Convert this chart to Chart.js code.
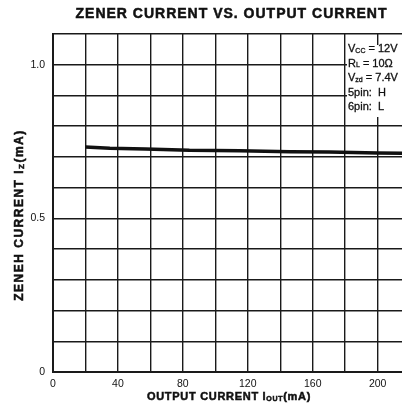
<!DOCTYPE html>
<html>
<head>
<meta charset="utf-8">
<script src="https://cdn.jsdelivr.net/npm/chart.js@4"></script>
<style>
  html, body { margin: 0; padding: 0; background: #fff; }
  .chart-box { width: 402px; height: 410px; position: relative; }
</style>
</head>
<body>
<div class="chart-box"><canvas id="zener"></canvas></div>
<script>
// data
const outputCurrent = [20, 35, 57, 84, 115, 146, 170, 200, 215];
const zenerCurrent = [0.732, 0.728, 0.726, 0.7215, 0.72, 0.717, 0.716, 0.713, 0.712];

// labelled ticks (grid runs every 20 mA / 0.1 mA)
const xTickValues = [0, 40, 80, 120, 160, 200];
const yTickValues = [0, 0.5, 1.0];
const yTickLabels = ["0", "0.5", "1.0"];

// test conditions box: [main, subscript, rest]
const conditions = [
  ["V", "CC", " = 12V"],
  ["R", "L", " = 10Ω"],
  ["V", "zd", " = 7.4V"],
  ["5pin:  H", "", ""],
  ["6pin:  L", "", ""],
];

const FONT = "'Liberation Sans', Arial, Helvetica, sans-serif";
const INK = "#111";

// draw text made of [text, isSubscript] parts, starting at x
function drawParts(ctx, parts, x, y, size, subSize, heavy) {
  parts.forEach(([txt, sub]) => {
    if (!txt) return;
    ctx.font = (sub ? subSize : size) + FONT;
    ctx.fillText(txt, x, sub ? y + 2 : y);
    if (heavy) ctx.strokeText(txt, x, sub ? y + 2 : y);
    x += ctx.measureText(txt).width;
  });
  return x;
}

function partsWidth(ctx, parts, size, subSize) {
  let w = 0;
  parts.forEach(([txt, sub]) => {
    ctx.font = (sub ? subSize : size) + FONT;
    w += ctx.measureText(txt).width;
  });
  return w;
}

const textPlugin = {
  id: "texts",
  afterDraw(chart) {
    const ctx = chart.ctx;
    const area = chart.chartArea;
    ctx.save();
    ctx.fillStyle = INK;
    ctx.strokeStyle = INK;
    ctx.lineWidth = 0.5;
    ctx.textBaseline = "middle";
    ctx.textAlign = "left";

    // title
    ctx.letterSpacing = "1px";
    ctx.font = "bold 14px " + FONT;
    ctx.textAlign = "center";
    const tx = (area.left + area.right) / 2 + 4;
    ctx.fillText("ZENER CURRENT VS. OUTPUT CURRENT", tx, 14);
    ctx.strokeText("ZENER CURRENT VS. OUTPUT CURRENT", tx, 14);
    ctx.textAlign = "left";

    // x axis title
    ctx.letterSpacing = "0.7px";
    const xParts = [["OUTPUT CURRENT I", false], ["OUT", true], ["(mA)", false]];
    const xw = partsWidth(ctx, xParts, "bold 11px ", "bold 7px ");
    drawParts(ctx, xParts, 229 - xw / 2, 397, "bold 11px ", "bold 7px ", true);

    // y axis title
    ctx.save();
    ctx.translate(20, 215);
    ctx.rotate(-Math.PI / 2);
    ctx.letterSpacing = "1.5px";
    const yParts = [["ZENEH CURRENT I", false], ["Z", true], ["(mA)", false]];
    const yw = partsWidth(ctx, yParts, "bold 12px ", "bold 8px ");
    drawParts(ctx, yParts, -yw / 2, 0, "bold 12px ", "bold 8px ", true);
    ctx.restore();

    // conditions box
    ctx.letterSpacing = "0px";
    ctx.fillStyle = "#fff";
    ctx.fillRect(area.right - 55, area.top + 11, 56, 72);
    ctx.fillStyle = INK;
    ctx.lineWidth = 0.3;
    conditions.forEach((c, i) => {
      drawParts(ctx, [[c[0], false], [c[1], true], [c[2], false]],
        area.right - 54, area.top + 15 + i * 14.5, "11px ", "7px ", true);
    });
    ctx.restore();
  },
};

new Chart(document.getElementById("zener"), {
  type: "scatter",
  data: {
    datasets: [
      {
        data: outputCurrent.map((x, i) => ({ x: x, y: zenerCurrent[i] })),
        showLine: true,
        borderColor: INK,
        borderWidth: 3.5,
        pointRadius: 0,
        tension: 0,
      },
    ],
  },
  options: {
    responsive: true,
    maintainAspectRatio: false,
    animation: false,
    layout: { padding: { top: 34, right: 0, left: 0, bottom: 0 } },
    scales: {
      x: {
        type: "linear",
        min: 0,
        max: 215,
        afterFit: (s) => { s.height = 38; },
        grid: { color: "#1a1a1a", lineWidth: 1.4, drawTicks: false },
        border: { color: "#1a1a1a", width: 2 },
        ticks: {
          stepSize: 20,
          includeBounds: false,
          maxRotation: 0,
          autoSkip: false,
          padding: 6,
          color: INK,
          font: { family: FONT, size: 10.5 },
          callback: (v) => (xTickValues.includes(v) ? String(v) : ""),
        },
      },
      y: {
        min: 0,
        max: 1.1,
        afterFit: (s) => { s.width = 53; },
        grid: { color: "#1a1a1a", lineWidth: 1.4, drawTicks: false },
        border: { color: "#1a1a1a", width: 2 },
        ticks: {
          stepSize: 0.1,
          autoSkip: false,
          padding: 8,
          color: INK,
          font: { family: FONT, size: 10.5 },
          callback: (v) => {
            const i = yTickValues.findIndex((t) => Math.abs(t - v) < 1e-6);
            return i >= 0 ? yTickLabels[i] : "";
          },
        },
      },
    },
    plugins: {
      legend: { display: false },
      tooltip: { enabled: false },
    },
  },
  plugins: [textPlugin],
});
</script>
</body>
</html>
